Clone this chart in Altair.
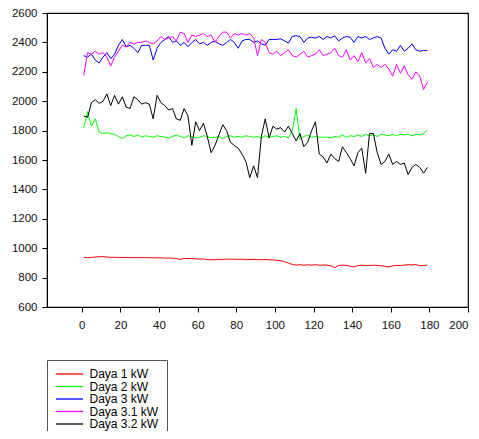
import altair as alt
import pandas as pd

# time axis (every 2 units)
x_values = list(range(1, 181, 2))

names = ["Daya 1 kW", "Daya 2 kW", "Daya 3 kW", "Daya 3.1 kW", "Daya 3.2 kW"]
colors = ["#ff0000", "#00ff00", "#0000ff", "#ff00ff", "#000000"]

daya1 = [938, 935, 937, 940, 942, 943, 940, 938, 938, 937,
         937, 937, 936, 936, 936, 935, 936, 935, 935, 934,
         935, 933, 933, 932, 930, 924, 930, 929, 930, 928,
         926, 927, 922, 921, 922, 925, 923, 926, 925, 925,
         924, 925, 922, 923, 924, 923, 922, 923, 921, 920,
         918, 914, 908, 898, 890, 885, 888, 884, 887, 885,
         888, 884, 886, 885, 880, 868, 882, 885, 883, 878,
         872, 882, 884, 883, 882, 884, 883, 880, 876, 872,
         880, 883, 882, 885, 888, 886, 889, 880, 882, 885]

daya2 = [1820, 1930, 1830, 1880, 1790, 1780, 1785, 1780, 1775, 1760,
         1745, 1765, 1770, 1760, 1770, 1755, 1765, 1760, 1755, 1765,
         1760, 1755, 1750, 1760, 1770, 1760, 1750, 1765, 1760, 1750,
         1755, 1765, 1760, 1750, 1755, 1760, 1745, 1760, 1765, 1755,
         1760, 1755, 1765, 1760, 1755, 1760, 1750, 1765, 1755, 1760,
         1765, 1755, 1760, 1750, 1800, 1950, 1740, 1760, 1770, 1755,
         1760, 1755, 1755, 1755, 1750, 1760, 1755, 1770, 1755, 1765,
         1760, 1770, 1760, 1775, 1765, 1770, 1760, 1775, 1770, 1765,
         1775, 1765, 1775, 1770, 1775, 1765, 1775, 1770, 1780, 1805]

daya3 = [2310, 2300, 2320, 2280, 2260, 2300, 2330, 2290, 2320, 2380,
         2420, 2370, 2380, 2360, 2330, 2380, 2380, 2380, 2280, 2360,
         2400, 2420, 2440, 2400, 2410, 2380, 2400, 2370, 2400, 2420,
         2390, 2400, 2380, 2400, 2410, 2390, 2380, 2400, 2420, 2400,
         2360, 2410, 2420, 2420, 2400, 2410, 2390, 2380, 2420, 2420,
         2420, 2425, 2410, 2395, 2440, 2445, 2440, 2400, 2430, 2435,
         2430, 2440, 2420, 2440, 2430, 2445, 2410, 2430, 2440, 2435,
         2400, 2440, 2430, 2440, 2420, 2430, 2440, 2430, 2360, 2320,
         2350, 2340, 2380, 2340, 2360, 2390, 2350, 2340, 2345, 2345]

daya31 = [2175, 2330, 2320, 2340, 2320, 2330, 2300, 2240, 2300, 2340,
          2380, 2370, 2400, 2390, 2400, 2400, 2410, 2400, 2390, 2410,
          2440, 2420, 2430, 2440, 2410, 2470, 2460, 2400, 2450, 2440,
          2450, 2460, 2440, 2450, 2400, 2440, 2470, 2470, 2430, 2460,
          2450, 2460, 2450, 2460, 2430, 2310, 2420, 2400, 2330, 2320,
          2340, 2310, 2330, 2350, 2310, 2300, 2320, 2340, 2300, 2310,
          2320, 2350, 2310, 2320, 2330, 2360, 2310, 2300, 2350, 2280,
          2310, 2270, 2330, 2260, 2290, 2230, 2250, 2230, 2250, 2220,
          2170, 2250, 2190, 2240, 2180, 2150, 2200, 2170, 2080, 2130]

daya32 = [1900, 1890, 1990, 2010, 1985, 2000, 2050, 1970, 2040, 1980,
          2030, 1960, 1950, 2030, 2010, 1980, 1990, 1980, 1880, 2040,
          1990, 1970, 1940, 1950, 1880, 1870, 1950, 1900, 1700, 1860,
          1800, 1850, 1760, 1650, 1700, 1770, 1840, 1800, 1720, 1700,
          1680, 1640, 1590, 1480, 1560, 1480, 1760, 1880, 1750, 1830,
          1810, 1820, 1790, 1830, 1780, 1730, 1780, 1690, 1720, 1800,
          1860, 1640, 1620, 1580, 1640, 1610, 1590, 1690, 1650, 1610,
          1560, 1650, 1680, 1510, 1780, 1780, 1650, 1570, 1590, 1640,
          1570, 1590, 1570, 1580, 1500, 1550, 1570, 1550, 1510, 1550]

x_ticks = [0, 20, 40, 60, 80, 100, 120, 140, 160, 180, 200]
y_ticks = [600, 800, 1000, 1200, 1400, 1600, 1800, 2000, 2200, 2400, 2600]

rows = []
for name, vals in zip(names, [daya1, daya2, daya3, daya31, daya32]):
    for x, v in zip(x_values, vals):
        rows.append({"t": x, "v": v, "s": name})
df = pd.DataFrame(rows)

FONT = "Liberation Sans"

chart = alt.Chart(df).mark_line(strokeWidth=1.0, clip=True).encode(
    x=alt.X("t:Q",
            scale=alt.Scale(domain=[-18, 200], nice=False, zero=False),
            axis=alt.Axis(values=x_ticks, title=None, grid=False, tickSize=5, format="d",
                          labelPadding=7, labelFontSize=11.5, labelFont=FONT,
                          labelColor="#111", domainColor="#000", tickColor="#000")),
    y=alt.Y("v:Q",
            scale=alt.Scale(domain=[600, 2600], nice=False, zero=False),
            axis=alt.Axis(values=y_ticks, title=None, grid=False, tickSize=5, format="d",
                          labelPadding=5, labelFontSize=11.5, labelFont=FONT,
                          labelColor="#111", domainColor="#000", tickColor="#000")),
    color=alt.Color("s:N",
                    scale=alt.Scale(domain=names, range=colors),
                    legend=alt.Legend(title=None, orient="none", legendX=0, legendY=347,
                                      symbolType="M-2.7,0H2.7", symbolSize=100,
                                      symbolStrokeWidth=1.3, labelFont=FONT,
                                      labelFontSize=12, labelColor="#000",
                                      strokeColor="#555", fillColor="white",
                                      padding=8, rowPadding=0.5, symbolOffset=8.5,
                                      labelOffset=14)),
).properties(
    width=421, height=294,
    autosize=alt.AutoSizeParams(type="none"),
    padding={"left": 39, "top": 5, "right": 3, "bottom": 124},
).configure_view(stroke="#000", strokeWidth=1.2)

chart.save("out.html", embed_options={"renderer": "svg", "actions": False})
